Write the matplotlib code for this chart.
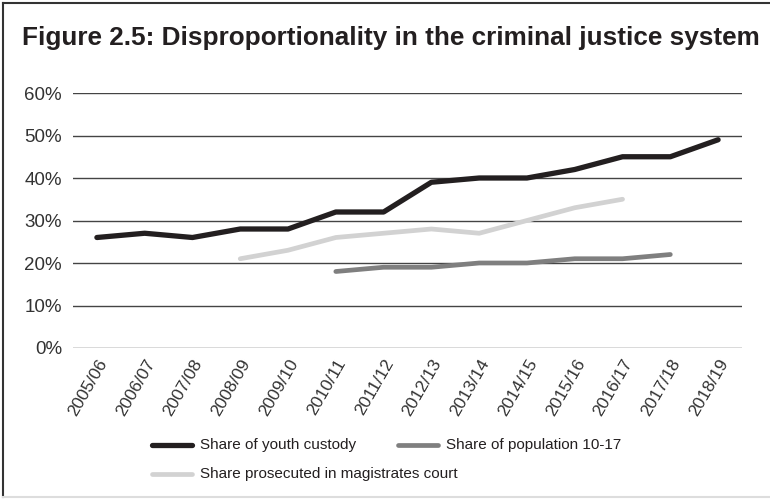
import matplotlib.pyplot as plt
from matplotlib.lines import Line2D
import numpy as np

plt.rcParams['font.family'] = ['Liberation Sans', 'DejaVu Sans']

years = ["2005/06", "2006/07", "2007/08", "2008/09", "2009/10", "2010/11", "2011/12",
         "2012/13", "2013/14", "2014/15", "2015/16", "2016/17", "2017/18", "2018/19"]
youth_custody = [26, 27, 26, 28, 28, 32, 32, 39, 40, 40, 42, 45, 45, 49]
# prosecuted series runs 2008/09 - 2016/17, population series 2010/11 - 2017/18
prosecuted = [None, None, None, 21, 23, 26, 27, 28, 27, 30, 33, 35, None, None]
population = [None, None, None, None, None, 18, 19, 19, 20, 20, 21, 21, 22, None]
yticks = [0, 10, 20, 30, 40, 50, 60]

c_custody = '#231f20'
c_pop = '#7f7f7f'
c_pros = '#d2d2d2'


def as_array(vals):
    return np.array([np.nan if v is None else v for v in vals], dtype=float)


fig = plt.figure(figsize=(7.7, 4.99), dpi=100)
ax = fig.add_axes([73 / 770, 1 - 348 / 499, (742 - 73) / 770, (348 - 93) / 499])

x = np.arange(len(years))
ax.plot(x, as_array(prosecuted), color=c_pros, lw=3.4, solid_capstyle='round', solid_joinstyle='round')
ax.plot(x, as_array(population), color=c_pop, lw=3.4, solid_capstyle='round', solid_joinstyle='round')
ax.plot(x, as_array(youth_custody), color=c_custody, lw=3.8, solid_capstyle='round', solid_joinstyle='round')

ax.set_xlim(-0.5, len(years) - 0.5)
ax.set_ylim(0, 60)
ax.set_yticks(yticks)
ax.set_yticklabels([f"{t}%" for t in yticks], fontsize=13.5, color='#333333')
ax.set_xticks(x)
ax.set_xticklabels(years, rotation=60, ha='right', rotation_mode='anchor', fontsize=12.5, color='#333333')
ax.tick_params(length=0)
ax.tick_params(axis='y', pad=8)
ax.tick_params(axis='x', pad=6)
ax.grid(axis='y', color='#444444', lw=1.0)
ax.set_axisbelow(True)
for s in ax.spines.values():
    s.set_visible(False)

fig.text(22 / 770, 1 - 38 / 499, "Figure 2.5: Disproportionality in the criminal justice system",
         fontsize=18.8, fontweight='bold', color='#231f20', va='center', ha='left')

# legend laid out as a flowing row + second line
entries = [
    (c_custody, 3.8, "Share of youth custody", 152, 445),
    (c_pop, 3.4, "Share of population 10-17", 398, 445),
    (c_pros, 3.4, "Share prosecuted in magistrates court", 152, 474),
]
for col, lw, label, px, py in entries:
    fig.add_artist(Line2D([px / 770, (px + 40) / 770], [1 - py / 499, 1 - py / 499],
                          color=col, lw=lw, solid_capstyle='round'))
    fig.text((px + 48) / 770, 1 - py / 499, label, fontsize=11, color='#231f20', va='center', ha='left')

# frame around the figure
fig.add_artist(Line2D([3 / 770, 3 / 770], [1 - 497 / 499, 1 - 3 / 499], color='#333333', lw=1.5))
fig.add_artist(Line2D([3 / 770, 1], [1 - 3 / 499, 1 - 3 / 499], color='#333333', lw=1.5))
fig.add_artist(Line2D([3 / 770, 1], [1 - 497 / 499, 1 - 497 / 499], color='#dddddd', lw=1.5))

fig.savefig('out.png', dpi=100)
